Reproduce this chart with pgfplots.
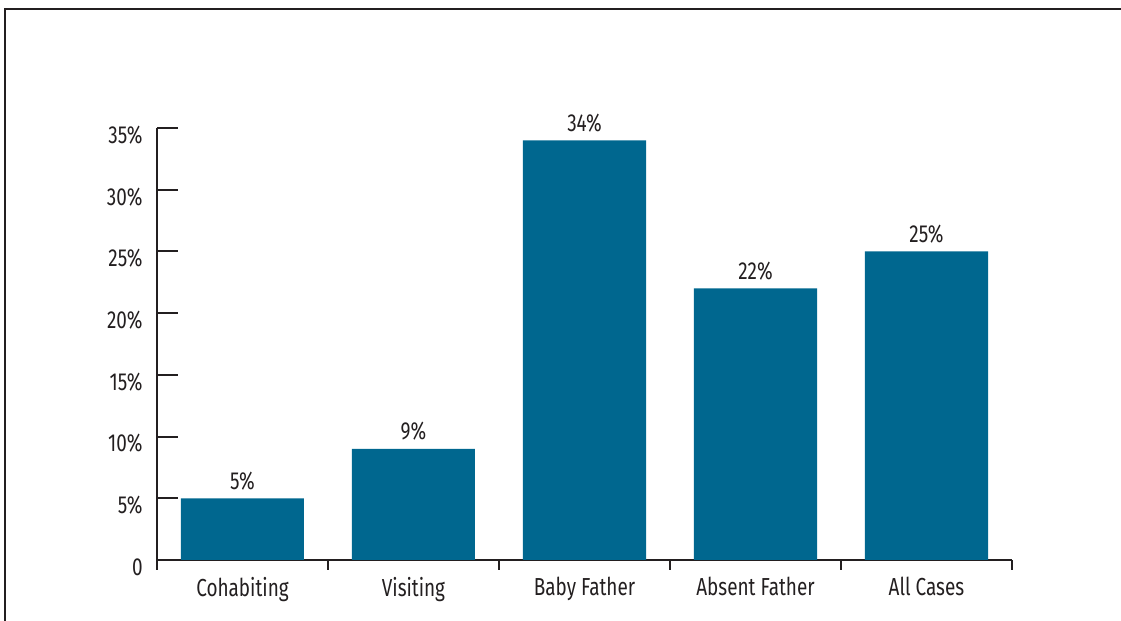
\documentclass[border=0pt]{standalone}
\usepackage{fontspec}
\setmainfont[FakeStretch=0.77]{Fira Sans}
\usepackage{pgfplots}
\pgfplotsset{compat=1.18}
\definecolor{barblue}{HTML}{00678F}
\definecolor{txt}{HTML}{231F20}
\begin{document}
\begin{tikzpicture}[font=\fontsize{12.3}{14}\selectfont]
\useasboundingbox (0,0) rectangle (560.5pt,310.5pt);
\draw[line width=0.8pt, txt] (2.5pt,0) -- (2.5pt,306pt) -- (560.5pt,306pt);
\begin{axis}[
  at={(78.5pt,30.5pt)}, anchor=south west,
  scale only axis, width=427.5pt, height=216pt,
  xmin=-0.5, xmax=4.5, ymin=0, ymax=35,
  clip=false,
  axis x line*=bottom, axis y line*=left,
  axis line style={line width=1pt, txt},
  every tick/.style={txt, line width=1pt},
  tick align=inside,
  xtick={0,1,2,3,4},
  xticklabels={Cohabiting,Visiting,Baby Father,Absent Father,All Cases},
  major x tick style={draw=none},
  minor xtick={-0.5,0.5,1.5,2.5,3.5,4.5},
  minor x tick style={draw=txt, line width=1pt},
  minor tick length=5pt,
  major tick length=10.5pt,
  ytick={0,5,10,15,20,25,30,35},
  yticklabels={0,5\%,10\%,15\%,20\%,25\%,30\%,35\%},
  xticklabel style={inner sep=0pt, anchor=north, yshift=2pt, text=txt},
  yticklabel style={inner sep=0pt, anchor=east, xshift=-7pt, yshift=-3.5pt, text=txt},
  ybar, bar width=61.5pt,
  nodes near coords={\pgfmathprintnumber[assume math mode=true]{\pgfplotspointmeta}\%},
  every node near coord/.append style={anchor=south, inner sep=0pt, yshift=4pt, text=txt},
]
\addplot[fill=barblue, draw=none] coordinates {(0,5) (1,9) (2,34) (3,22) (4,25)};
\end{axis}
\end{tikzpicture}
\end{document}
